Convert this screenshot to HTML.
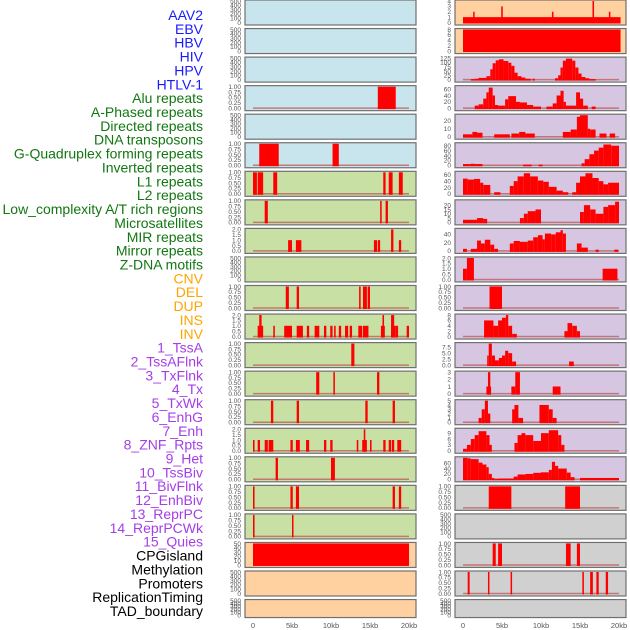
<!DOCTYPE html>
<html><head><meta charset="utf-8"><style>
body{margin:0;background:#fff;width:630px;height:630px;overflow:hidden;font-family:"Liberation Sans",sans-serif}
svg{position:absolute;left:0;top:0}
</style></head><body>
<svg id="chart" width="630" height="630" xmlns="http://www.w3.org/2000/svg"></svg>
<script>
const trackLabels=["AAV2","EBV","HBV","HIV","HPV","HTLV-1","Alu repeats","A-Phased repeats","Directed repeats","DNA transposons","G-Quadruplex forming repeats","Inverted repeats","L1 repeats","L2 repeats","Low_complexity A/T rich regions","Microsatellites","MIR repeats","Mirror repeats","Z-DNA motifs","CNV","DEL","DUP","INS","INV","1_TssA","2_TssAFlnk","3_TxFlnk","4_Tx","5_TxWk","6_EnhG","7_Enh","8_ZNF_Rpts","9_Het","10_TssBiv","11_BivFlnk","12_EnhBiv","13_ReprPC","14_ReprPCWk","15_Quies","CPGisland","Methylation","Promoters","ReplicationTiming","TAD_boundary"];
const labelColors=[["#1a1aff",6],["#117711",13],["#ffa500",5],["#a43ee8",15],["#000000",5]];
const xTicks=[0,5,10,15,20];
const xTickLabels=["0","5kb","10kb","15kb","20kb"];
const leftColors=["#c8e4ec","#c8e4ec","#c8e4ec","#c8e4ec","#c8e4ec","#c8e4ec","#c8e0a4","#c8e0a4","#c8e0a4","#c8e0a4","#c8e0a4","#c8e0a4","#c8e0a4","#c8e0a4","#c8e0a4","#c8e0a4","#c8e0a4","#c8e0a4","#c8e0a4","#ffd1a0","#ffd1a0","#ffd1a0"];
const rightColors=["#ffd1a0","#ffd1a0","#d6c6e2","#d6c6e2","#d6c6e2","#d6c6e2","#d6c6e2","#d6c6e2","#d6c6e2","#d6c6e2","#d6c6e2","#d6c6e2","#d6c6e2","#d6c6e2","#d6c6e2","#d6c6e2","#d6c6e2","#d0d0d0","#d0d0d0","#d0d0d0","#d0d0d0","#d0d0d0"];
const T500=[0,100,200,300,400,500], T1=[0,0.25,0.5,0.75,1], T2=[0,0.5,1,1.5,2];
const leftTicks=[T500,T500,T500,T1,T500,T1,T1,T1,T2,T500,T1,T2,T1,T1,T1,T2,T1,T1,T1,[0,10,20,30,40,50],T500,T500];
const rightTicks=[[0,1,2,3,4],[0,2,4,6,8],[0,25,50,75,100,125],[0,20,40,60],[0,10,20],[0,20,40,60,80],[0,20,40,60],[0,5,10,15,20],[0,20,40],T2,T1,[0,2,4,6,8],[0,2.5,5,7.5],[0,1,2,3],[0,1,2,3,4,5],[0,3,6,9],[0,20,40,60],T1,T500,T1,T1,T500];
const leftMax=[500,500,500,1,500,1,1,1,2,500,1,2,1,1,1,2,1,1,1,50,500,500];
const rightMax=[4,8,125,68,27,88,68,25,52,2,1,8,9,3,5,11,80,1,500,1,1,500];
const leftData=[[],[],[],[[16,18.3,1]],[],[[0.8,3.3,1],[10.2,11,1]],
[[0,0.5,1],[0.6,1.3,1],[2.6,3.1,1],[16.7,17,1],[17.4,17.9,1],[18.7,19.2,1]],
[[1.5,1.9,1],[16.3,16.5,1],[17,17.3,1]],
[[4.5,5,1],[5.5,6.2,1],[15.5,15.9,1],[16,16.3,1],[17.7,18,2],[18.7,19,1]],
[],
[[4.2,4.6,1],[5.6,5.9,1],[13.6,13.8,1],[14.1,14.6,1],[14.7,15,1]],
[[0.6,1.3,1],[0.8,1.1,2],[2.6,2.8,1],[4,5,1],[5.6,6.4,1],[6.9,7.2,1],[7.9,8.5,1],[9.1,9.4,1],[9.9,10.2,1],[10.4,10.6,1],[11,11.3,1],[11.8,12.2,1],[12.4,12.7,1],[13.5,14,1],[14.1,14.8,1],[16.4,16.9,1],[16.6,16.8,2],[17.7,18.3,1],[17.7,18.1,2],[18.3,18.6,1],[19.7,20,1]],
[[12.6,13,1]],
[[8.1,8.5,1],[10.3,10.5,1],[15.9,16.2,1]],
[[2.3,2.6,1],[5.6,5.9,1],[14.4,14.7,1],[17.9,18.2,1]],
[[0,0.2,1],[0.6,0.9,1],[1.5,1.9,1],[2,2.6,1],[4.8,5.1,1],[5.5,6,1],[6.8,7.2,1],[9.1,9.4,1],[9.9,10.2,1],[13.3,13.5,1],[14,14.6,1],[14.2,14.4,2],[15,15.2,1],[16.7,17,1],[17.4,17.7,1],[17.8,18.1,1],[18.5,19,1]],
[[2.9,3.2,1],[10,10.5,1]],
[[0,0.2,1],[4.8,5.1,1],[5.5,5.9,1],[17.9,18.2,1],[18.7,19,1]],
[[0,0.2,1],[5,5.15,1]],
[[0,20,50]],[],[]];
const rightData=[
[[0,20.2,1],[1.3,1.4,2],[4.9,5.1,3],[11.4,11.6,2],[16.6,16.8,4],[18.7,18.9,2]],
[[0,20.2,8]],
[[1,1.5,3],[1.5,2,5],[2,3,10],[3,3.5,20],[3.5,3.8,60],[3.8,4.2,95],[4.2,4.6,112],[4.6,5.2,118],[5.2,5.8,108],[5.8,6.2,98],[6.2,6.6,80],[6.6,7,40],[7,7.5,20],[7.5,8,12],[8,8.7,5],[8.9,9.2,5],[11.8,12.2,8],[12.2,12.5,25],[12.5,12.8,70],[12.8,13.2,110],[13.2,14,122],[14,14.4,110],[14.4,14.8,70],[14.8,15.2,35],[15.2,15.7,15],[15.7,16.2,8],[16.2,17,3]],
[[1.5,2,8],[2,2.6,12],[2.6,3,30],[3,3.3,50],[3.3,3.8,65],[3.8,4.1,40],[4.1,4.5,10],[4.5,5.4,8],[5.4,5.8,28],[5.8,6.8,38],[6.8,7.3,20],[7.3,8.2,18],[8.2,9,10],[9,10,5],[10.7,11.5,5],[11.5,12,15],[12,12.5,40],[12.5,12.9,55],[12.9,13.2,20],[13.2,14.5,8],[14.5,15,50],[15,15.4,30],[15.4,16,8],[16.5,17,5]],
[[0,1.2,3],[1.2,1.8,6],[1.8,2.5,5],[4,6,3],[6.2,7.2,4],[7.2,8,6],[8,9.2,4],[12.8,13.8,6],[13.8,14.6,9],[14.6,15,25],[15,16,27],[16,16.3,10],[16.3,17,9],[17.5,18.4,4],[18.8,19.5,4]],
[[0,1,5],[1,1.5,6],[1.5,2.5,5],[7.7,8.8,3],[9.7,10.2,3],[15.2,15.6,8],[15.6,16.2,25],[16.2,16.8,45],[16.8,17.4,60],[17.4,18,72],[18,19,85],[19,20,80]],
[[0,0.6,48],[0.6,1.4,45],[1.4,2.2,47],[2.2,2.6,35],[2.6,3.5,28],[4,4.8,5],[6,6.5,25],[6.5,7,40],[7,7.8,55],[7.8,8.6,65],[8.6,9.6,55],[9.6,10.3,42],[10.3,11,38],[11,12,22],[12,12.8,10],[12.8,13.5,5],[14,14.5,5],[14.5,15,35],[15,15.7,55],[15.7,16.6,65],[16.6,17.4,50],[17.4,18,40],[18,18.6,30],[18.6,20,35]],
[[0,1.8,3],[1.8,2.6,5],[2.6,3.1,4],[7.3,7.8,5],[7.8,8.3,10],[8.3,9.3,13],[9.3,10,15],[15,15.5,12],[15.5,16.3,20],[16.3,17,15],[17,18,10],[18,18.6,18],[18.6,19.5,20],[19.5,20,24]],
[[0,0.5,5],[1,1.8,5],[1.8,2.3,25],[2.3,2.8,18],[2.8,3.5,27],[3.5,4,15],[4,4.5,5],[6,6.5,18],[6.5,7.3,24],[7.3,8.3,22],[8.3,9,25],[9,9.6,33],[9.6,10.2,38],[10.2,10.5,28],[10.5,11.3,42],[11.3,11.9,40],[11.9,12.5,45],[12.5,12.8,50],[12.8,13.2,42],[14.6,15.2,18],[15.2,16,8],[17,17.4,3],[19.4,19.9,3]],
[[0,0.5,1],[0.5,1.4,2],[17.9,19.8,1]],
[[3.4,5,1]],
[[2.7,3.9,6],[3.9,4.5,4],[4.5,5,6],[5,5.5,7],[5.5,5.8,8],[5.8,6.3,4],[6.3,6.9,1],[13,13.4,2],[13.4,14,5],[14,14.6,4],[14.6,15,2]],
[[3.1,3.3,4],[3.3,3.7,9],[3.7,4.1,4],[4.1,4.6,2],[4.6,5,3],[5,5.4,4],[5.4,5.8,6],[5.8,6.3,5],[6.3,6.8,1.5],[13.6,14.2,1.5]],
[[3,3.6,1],[3.2,3.5,3],[6.2,6.7,1],[6.7,7.3,3],[11.5,12.5,1]],
[[2,2.4,1],[2.4,2.8,3],[2.8,3.2,5],[3.2,3.5,2],[6.3,6.6,3],[6.6,7.1,4],[7.1,7.7,1],[9.8,11,4],[11,11.5,3],[11.5,12,1]],
[[0,0.5,1],[0.5,1,3],[1,1.5,6],[1.5,2,8],[2,3,10],[3,3.4,8],[3.4,3.7,3],[6.6,7,4],[7,7.5,8],[7.5,8,9],[8,9,8],[9,10,5],[10,11,9],[11,12.2,10.5],[12.2,12.6,8],[12.6,13,3]],
[[0,0.6,80],[0.6,1,78],[1,2,75],[2,2.5,62],[2.5,3,55],[3,3.3,45],[3.3,3.7,20],[3.7,4,5],[4,4.5,2],[4.5,6.5,3],[6.5,7,10],[7,8,18],[8,9,20],[9,10,24],[10,11,26],[11,11.4,35],[11.4,11.8,65],[11.8,12.2,50],[12.2,13.3,40],[13.3,13.8,25],[13.8,14.3,8],[15,20,5]],
[[3.3,6.2,1],[13.1,15,1]],
[],
[[3.8,4.2,1],[4.5,5,1],[13.2,13.8,1],[14.6,15,1]],
[[0.6,0.85,1],[3.2,3.35,1],[6.1,6.25,1],[15.3,15.5,1],[16.3,16.65,1],[17.1,17.4,1],[18.3,18.6,1]],
[]];

const NS="http://www.w3.org/2000/svg";
const svg=document.getElementById('chart');
function mk(tag,attrs,parent){const e=document.createElementNS(NS,tag);for(const k in attrs)e.setAttribute(k,attrs[k]);(parent||svg).appendChild(e);return e;}
let li=0;
labelColors.forEach(([c,n])=>{for(let j=0;j<n;j++){const t=mk('text',{x:203,y:20+li*13.86,'text-anchor':'end','font-size':'14',fill:c});t.textContent=trackLabels[li];


li++;}});
const cols=[{x0:245,x1:416,zero:253,colors:leftColors,ticks:leftTicks,max:leftMax,data:leftData,name:'left'},
{x0:455,x1:626,zero:463,colors:rightColors,ticks:rightTicks,max:rightMax,data:rightData,name:'right'}];
const kbPx=7.8;
cols.forEach(col=>{
  const xs=kb=>col.zero+kb*kbPx;
  for(let r=0;r<22;r++){
    const top=r*28.55, h=r===21?18:25, bot=top+h;
    const g=mk('g',{});
    
    
    mk('rect',{x:col.x0,y:top,width:col.x1-col.x0,height:h,fill:col.colors[r],stroke:'#707070','stroke-width':1.2},g);
    const y0=bot-2.5, y1=top+1;
    const ys=v=>y0-(v/col.max[r])*(y0-y1);
    if(col.data[r].length) mk('line',{x1:xs(0),x2:xs(20),y1:y0,y2:y0,stroke:'#c06060','stroke-width':1.5,opacity:0.8},g);
    col.data[r].forEach(d=>{
      const b=mk('rect',{x:xs(d[0]),y:ys(d[2]),width:Math.max(1.5,xs(d[1])-xs(d[0])),height:y0-ys(d[2])+1,fill:'#ff0000'},g);
      
      
    });
    const tk=col.ticks[r];
    const dec=tk.includes(0.25)||tk.includes(7.5)?(tk.includes(7.5)?1:2):(tk.includes(0.5)?1:0);
    tk.forEach(v=>{
      const t=mk('text',{x:col.x0-4,y:ys(v)+2.3,'text-anchor':'end','font-size':'6.5',fill:'#555'},g);
      t.textContent=v.toFixed(dec);
      
      
    });
  }
  xTicks.forEach((k,i)=>{
    const t=mk('text',{x:xs(k),y:628,'text-anchor':'middle','font-size':'7.5',fill:'#555'});
    t.textContent=xTickLabels[i];
    
    
  });
});
</script>
</body></html>
